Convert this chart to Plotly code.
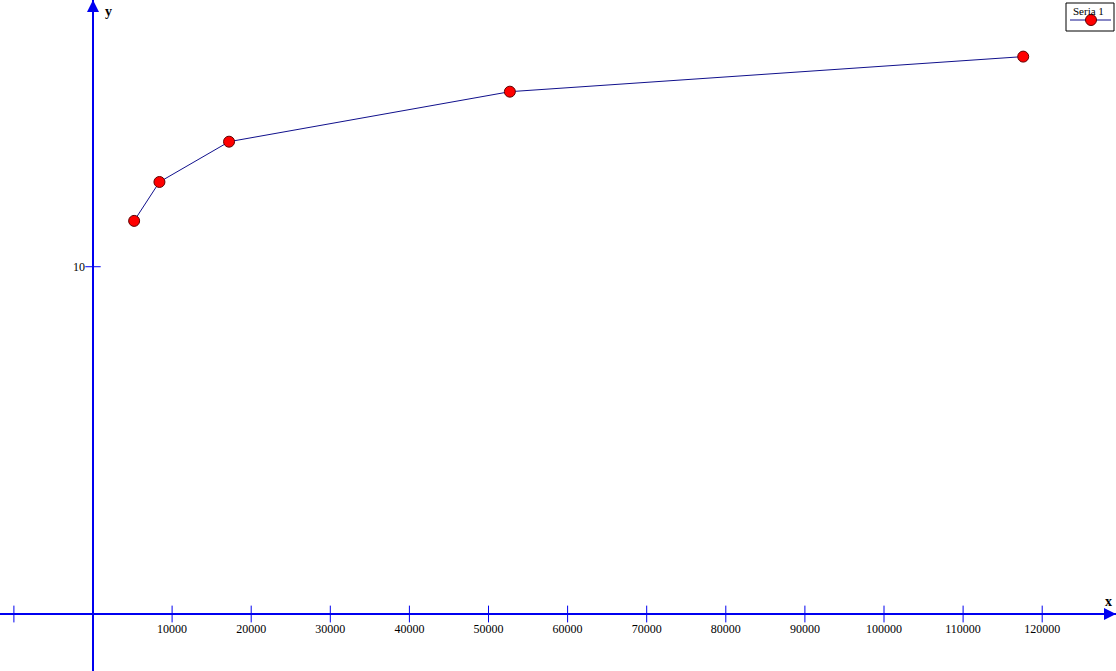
import plotly.graph_objects as go

# Data
x_vals = [5200, 8400, 17200, 52700, 117600]
y_vals = [11.32, 12.44, 13.60, 15.04, 16.05]
series_name = "Seria 1"

x_tick_vals = [10000, 20000, 30000, 40000, 50000, 60000, 70000, 80000, 90000, 100000, 110000, 120000]
x_tick_text = [str(v) for v in x_tick_vals]
x_tick_marks = [-10000] + x_tick_vals
y_tick_vals = [10]
y_tick_text = ["10"]

W, H = 1116, 671
x_range = [-11757, 129330]
y_range = [-1.641, 17.68]

AXIS_BLUE = "#0000F0"
LINE_COLOR = "#10108C"
MARKER_FILL = "#FF0000"
MARKER_EDGE = "#600000"


def px(x):
    return x / W


def py(y):
    return 1 - y / H


fig = go.Figure()

# crossing tick marks on the axes
fig.add_trace(go.Scatter(
    x=x_tick_marks, y=[0] * len(x_tick_marks), mode="markers",
    marker=dict(symbol="line-ns", size=12, line=dict(color=AXIS_BLUE, width=1)),
    showlegend=False, hoverinfo="skip"))
fig.add_trace(go.Scatter(
    x=[0] * len(y_tick_vals), y=y_tick_vals, mode="markers",
    marker=dict(symbol="line-ew", size=11, line=dict(color=AXIS_BLUE, width=1)),
    showlegend=False, hoverinfo="skip"))

# data series
fig.add_trace(go.Scatter(
    x=x_vals, y=y_vals, mode="lines+markers", name=series_name,
    line=dict(color=LINE_COLOR, width=1),
    marker=dict(size=11, color=MARKER_FILL, line=dict(color=MARKER_EDGE, width=1)),
    showlegend=False))

fig.update_layout(
    width=W, height=H,
    margin=dict(l=0, r=0, t=0, b=0, pad=0, autoexpand=False),
    paper_bgcolor="white", plot_bgcolor="white",
    font=dict(family="Liberation Serif", size=12, color="black"),
    showlegend=False,
    xaxis=dict(range=x_range, showgrid=False, zeroline=True,
               zerolinecolor=AXIS_BLUE, zerolinewidth=2,
               tickvals=x_tick_vals, ticktext=x_tick_text, ticks="",
               tickfont=dict(color="black"), automargin=False,
               anchor="free", position=(H - 614) / H, showline=False,
               ticklabelstandoff=6),
    yaxis=dict(range=y_range, showgrid=False, zeroline=True,
               zerolinecolor=AXIS_BLUE, zerolinewidth=2,
               tickvals=y_tick_vals, ticktext=y_tick_text, ticks="",
               tickfont=dict(color="black"), automargin=False,
               anchor="free", position=93 / W, showline=False,
               ticklabelstandoff=8),
)

# arrowheads at the axis ends
fig.add_annotation(x=x_range[1], y=0, ax=-14, ay=0, axref="pixel", ayref="pixel",
                   showarrow=True, arrowhead=2, arrowsize=1.2, arrowwidth=2,
                   arrowcolor=AXIS_BLUE, text="")
fig.add_annotation(x=0, y=y_range[1], ax=0, ay=14, axref="pixel", ayref="pixel",
                   showarrow=True, arrowhead=2, arrowsize=1.2, arrowwidth=2,
                   arrowcolor=AXIS_BLUE, text="")

# axis names
fig.add_annotation(x=px(1108), y=py(601), xref="paper", yref="paper",
                   xanchor="center", yanchor="middle",
                   text="<b>x</b>", showarrow=False,
                   font=dict(family="Liberation Serif", size=14))
fig.add_annotation(x=px(108), y=py(12), xref="paper", yref="paper",
                   xanchor="center", yanchor="middle",
                   text="<b>y</b>", showarrow=False,
                   font=dict(family="Liberation Serif", size=14))

# legend box (text above the line sample, as in the reference)
fig.add_shape(type="rect", xref="paper", yref="paper",
              x0=px(1066), x1=px(1114), y0=py(31), y1=py(3),
              line=dict(color="black", width=1), fillcolor="white")
fig.add_shape(type="line", xref="paper", yref="paper",
              x0=px(1070), x1=px(1111), y0=py(20), y1=py(20),
              line=dict(color=LINE_COLOR, width=1))
fig.add_shape(type="circle", xref="paper", yref="paper",
              x0=px(1085.5), x1=px(1096.5), y0=py(25.5), y1=py(14.5),
              line=dict(color=MARKER_EDGE, width=1), fillcolor=MARKER_FILL)
fig.add_annotation(x=px(1071), y=py(11), xref="paper", yref="paper",
                   xanchor="left", yanchor="middle",
                   text=series_name, showarrow=False,
                   font=dict(family="Liberation Serif", size=11))

fig.write_html("out.html", config={"displayModeBar": False},
               post_script="document.body.style.margin='0';document.body.style.padding='0';")
